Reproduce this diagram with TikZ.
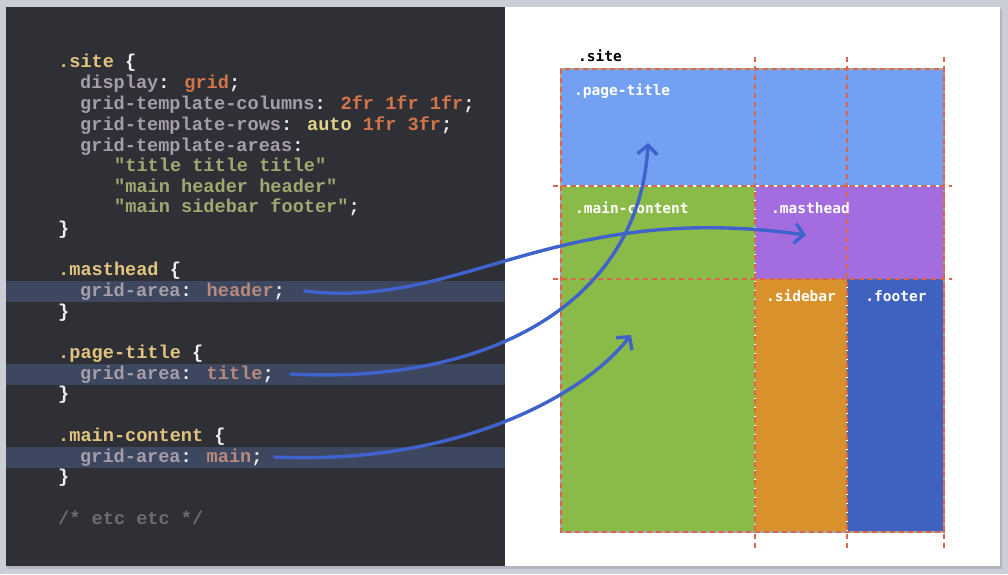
\documentclass[tikz,border=0pt]{standalone}
\usepackage{fontspec}
\usetikzlibrary{arrows.meta,positioning}
\newfontfamily\codefont{Liberation Mono}
\newfontfamily\tagfont{DejaVu Sans Mono}
\definecolor{deskgray}{RGB}{203,206,214}
\definecolor{shadowgray}{RGB}{178,181,190}
\definecolor{codebg}{RGB}{47,48,54}
\definecolor{hlbar}{RGB}{61,72,96}
\definecolor{csel}{RGB}{226,196,126}
\definecolor{cprop}{RGB}{166,157,170}
\definecolor{cnum}{RGB}{210,118,74}
\definecolor{cauto}{RGB}{228,210,140}
\definecolor{cstr}{RGB}{163,168,112}
\definecolor{cident}{RGB}{184,137,124}
\definecolor{ccomment}{RGB}{108,109,115}
\definecolor{cpunct}{RGB}{240,240,240}
\definecolor{titleblue}{RGB}{116,160,244}
\definecolor{maingreen}{RGB}{138,186,71}
\definecolor{mastpurple}{RGB}{163,109,223}
\definecolor{sideorange}{RGB}{217,146,43}
\definecolor{footblue}{RGB}{63,97,191}
\definecolor{guidered}{RGB}{217,101,74}
\definecolor{linkblue}{RGB}{63,98,204}
\newcommand\cssSel[1]{\textcolor{csel}{#1}}
\newcommand\cssProp[1]{\textcolor{cprop}{#1}}
\newcommand\cssNum[1]{\textcolor{cnum}{#1}}
\newcommand\cssStr[1]{\textcolor{cstr}{#1}}
\newcommand\cssId[1]{\textcolor{cident}{#1}}

\begin{document}
\begin{tikzpicture}[x=1pt,y=-1pt,
  code/.style={font=\codefont\bfseries\fontsize{18.6}{20}\selectfont, text=cpunct,
               anchor=base west, inner sep=0pt},
  cell/.style={anchor=north west, inner sep=0pt, outer sep=0pt},
  tag/.style={font=\tagfont\bfseries\fontsize{14.5}{16}\selectfont, text=white,
              anchor=base west, inner sep=0pt},
  guide/.style={draw=guidered, line width=2.2pt, dash pattern=on 5pt off 4pt},
  seam/.style={draw=white, line width=2.2pt, dash pattern=on 4pt off 5pt, dash phase=4.5pt},
  link/.style={draw=linkblue, line width=3.4pt, line cap=round,
               -{Straight Barb[length=9pt,width=20pt]}}
]
  \useasboundingbox (0,0) rectangle (1008,574);
  % Desk and slide
  \fill[deskgray] (0,0) rectangle (1008,574);
  \fill[shadowgray] (7,9) rectangle (1002,569);
  \fill[codebg] (6,7) rectangle (505,566);
  \fill[white] (505,7) rectangle (1000,566);

  % Highlighted lines
  \fill[hlbar] (6,281) rectangle (505,302);
  \fill[hlbar] (6,364) rectangle (505,385);
  \fill[hlbar] (6,447) rectangle (505,468);

  % CSS source
  \node[code] (site)    at (58,67)  {\cssSel{.site} \{};
  \node[code] (display) at (80,88)  {\cssProp{display}: \cssNum{grid};};
  \node[code] (cols)    at (80,109) {\cssProp{grid-template-columns}: \cssNum{2fr 1fr 1fr};};
  \node[code] (rows)    at (80,130) {\cssProp{grid-template-rows}: \textcolor{cauto}{auto} \cssNum{1fr 3fr};};
  \node[code] (areas)   at (80,151) {\cssProp{grid-template-areas}:};
  \node[code] (area1)   at (114,171) {\cssStr{"title title title"}};
  \node[code] (area2)   at (114,192) {\cssStr{"main header header"}};
  \node[code] (area3)   at (114,212) {\cssStr{"main sidebar footer"};};
  \node[code] (siteend) at (58,234) {\}};

  \node[code] (mast)    at (58,275) {\cssSel{.masthead} \{};
  \node[code] (mastga)  at (80,296) {\cssProp{grid-area}: \cssId{header};};
  \node[code] (mastend) at (58,317) {\}};

  \node[code] (ptitle)    at (58,358) {\cssSel{.page-title} \{};
  \node[code] (ptitlega)  at (80,379) {\cssProp{grid-area}: \cssId{title};};
  \node[code] (ptitleend) at (58,399) {\}};

  \node[code] (mcont)    at (58,441) {\cssSel{.main-content} \{};
  \node[code] (mcontga)  at (80,462) {\cssProp{grid-area}: \cssId{main};};
  \node[code] (mcontend) at (58,482) {\}};

  \node[code, text=ccomment] (etc) at (58,524) {/* etc etc */};

  % Grid areas
  \node[cell, fill=titleblue,   minimum width=383pt, minimum height=117pt] (title)    at (561,69)  {};
  \node[cell, fill=maingreen,   minimum width=194pt, minimum height=346pt] (main)     at (561,186) {};
  \node[cell, fill=mastpurple,  minimum width=189pt, minimum height=93pt]  (masthead) at (755,186) {};
  \node[cell, fill=sideorange,  minimum width=92pt,  minimum height=253pt] (sidebar)  at (755,279) {};
  \node[cell, fill=footblue,    minimum width=97pt,  minimum height=253pt] (footer)   at (847,279) {};

  % Area seams
  \draw[seam] (561,186) -- (944,186);
  \draw[seam] (755,186) -- (755,532);
  \draw[seam] (755,279) -- (944,279);
  \draw[seam] (847,279) -- (847,532);

  % Grid lines
  \draw[gray!70, line width=2.4pt] (561,69) rectangle (944,532);
  \draw[guide] (561,69) rectangle (944,532);
  \foreach \gx in {755,847,944}
    \draw[guide] (\gx,57) -- (\gx,548);
  \foreach \gy in {186,279}
    \draw[guide] (553,\gy) -- (952,\gy);

  % Labels
  \node[tag, text=black] (sitetag) at (578,61.5) {.site};
  \node[tag] (titletag) at (574,95.5)  {.page-title};
  \node[tag] (maintag)  at (575,213.5) {.main-content};
  \node[tag] (masttag)  at (771,213.5) {.masthead};
  \node[tag, anchor=base] (sidetag) at (801,301.5) {.sidebar};
  \node[tag, anchor=base] (foottag) at (896,301.5) {.footer};

  % Arrow targets
  \coordinate (masttip)  at (806,235);
  \coordinate (titletip) at (648,143);
  \coordinate (maintip)  at (631,335);

  % Links
  \draw[link] ([xshift=20pt,yshift=5pt]mastga.base east)
    .. controls (460,310) and (555,200) .. (masttip);
  \draw[link] ([xshift=17pt,yshift=5pt]ptitlega.base east)
    .. controls (500,385) and (640,295) .. (titletip);
  \draw[link] ([xshift=12pt,yshift=5pt]mcontga.base east)
    .. controls (450,465) and (580,400) .. (maintip);
\end{tikzpicture}
\end{document}
